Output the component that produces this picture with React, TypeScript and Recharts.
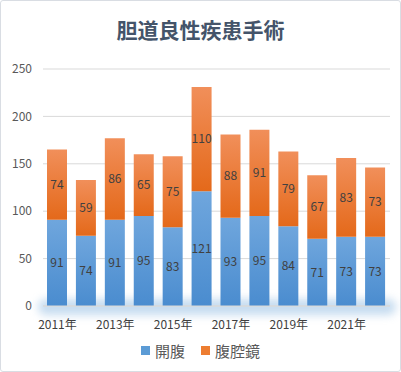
import React from 'react';
import { BarChart, Bar, XAxis, YAxis, CartesianGrid, LabelList } from 'recharts';

const years = ['2011年', '2012年', '2013年', '2014年', '2015年', '2016年', '2017年', '2018年', '2019年', '2020年', '2021年', '2022年'];
const openSurgery = [91, 74, 91, 95, 83, 121, 93, 95, 84, 71, 73, 73];
const laparoscopic = [74, 59, 86, 65, 75, 110, 88, 91, 79, 67, 83, 73];
const yTicks = [0, 50, 100, 150, 200, 250];

const data = years.map((y, i) => ({ year: y, open: openSurgery[i], lap: laparoscopic[i] }));

const FONT = '"Noto Sans CJK JP", "Noto Sans", sans-serif';

export default function App() {
  return (
    <div style={{ position: 'absolute', left: 0, top: 0, width: 401, height: 372, background: '#fff' }}>
      <div style={{ position: 'absolute', left: 0, top: 0, width: 401, height: 372, boxSizing: 'border-box', border: '1px solid #d9dde3', borderRadius: 3 }} />
      <div style={{ position: 'absolute', left: 38, top: 299, width: 358, height: 16, background: 'rgba(91,155,213,0.35)', borderRadius: 8, filter: 'blur(4px)' }} />
      <div style={{ position: 'absolute', left: 0, top: 14, width: 401, textAlign: 'center', fontFamily: FONT, fontSize: 21, fontWeight: 'bold', color: '#44546a', lineHeight: '30px' }}>
        胆道良性疾患手術
      </div>
      <div style={{ position: 'absolute', left: 0, top: 0 }}>
        <BarChart width={401} height={372} data={data} margin={{ top: 69, right: 11, bottom: 36, left: 0 }} barSize={20}>
          <defs>
            <linearGradient id="gBlue" x1="0" y1="0" x2="0" y2="1">
              <stop offset="0%" stopColor="#6fa6dd" />
              <stop offset="100%" stopColor="#4a8ccf" />
            </linearGradient>
            <linearGradient id="gOrange" x1="0" y1="0" x2="0" y2="1">
              <stop offset="0%" stopColor="#f18f5a" />
              <stop offset="100%" stopColor="#e4691a" />
            </linearGradient>
          </defs>
          <CartesianGrid vertical={false} stroke="#d9d9d9" />
          <XAxis dataKey="year" interval={1} tickLine={false} axisLine={{ stroke: '#d9d9d9' }} tick={{ fill: '#404040', fontSize: 12, fontFamily: FONT }} tickMargin={8} height={30} />
          <YAxis domain={[0, 250]} ticks={yTicks} width={43} tickLine={false} axisLine={false} tickMargin={5} tick={{ fill: '#595959', fontSize: 12, fontFamily: FONT }} />
          <Bar dataKey="open" name="開腹" stackId="a" fill="url(#gBlue)" isAnimationActive={false}>
            <LabelList dataKey="open" position="center" fill="#404040" fontSize={12} fontFamily={FONT} />
          </Bar>
          <Bar dataKey="lap" name="腹腔鏡" stackId="a" fill="url(#gOrange)" isAnimationActive={false}>
            <LabelList dataKey="lap" position="center" fill="#404040" fontSize={12} fontFamily={FONT} />
          </Bar>
        </BarChart>
      </div>
      <div style={{ position: 'absolute', left: 0, top: 339, width: 401, height: 22, display: 'flex', justifyContent: 'center', alignItems: 'center', fontFamily: FONT, fontSize: 15, color: '#595959' }}>
        <span style={{ display: 'inline-block', width: 9, height: 9, background: '#5b9bd5', marginRight: 5 }} />
        <span style={{ marginRight: 16 }}>開腹</span>
        <span style={{ display: 'inline-block', width: 9, height: 9, background: '#ed7d31', marginRight: 5 }} />
        <span>腹腔鏡</span>
      </div>
    </div>
  );
}
